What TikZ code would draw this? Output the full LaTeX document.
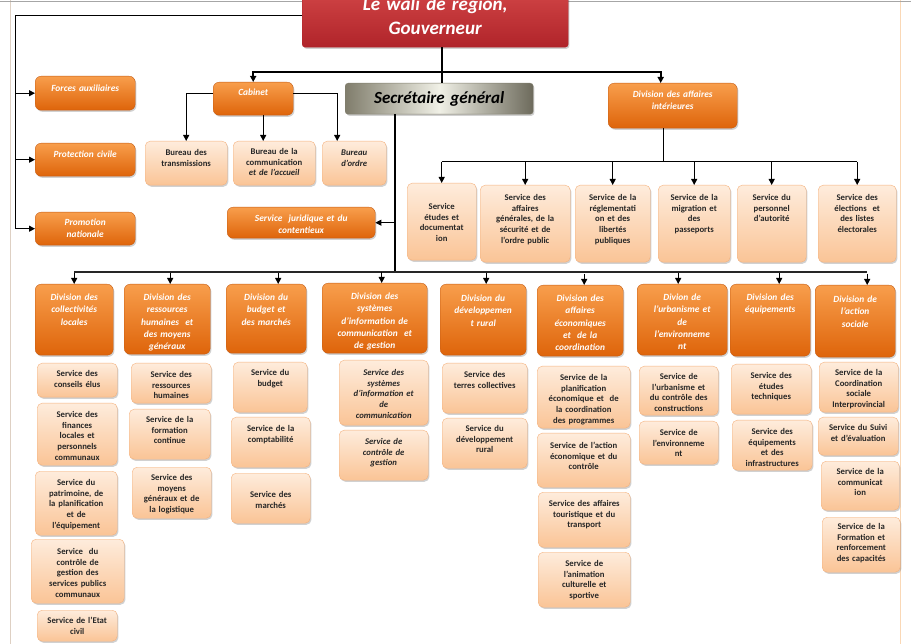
\documentclass[tikz,border=0pt]{standalone}
\usepackage{fontspec}
\setmainfont{Carlito}
\usetikzlibrary{arrows.meta,shadows}
\usepackage{xcolor}
\definecolor{orgtop}{RGB}{248,158,76}
\definecolor{orgbot}{RGB}{222,100,10}
\definecolor{orgbd}{RGB}{196,92,20}
\definecolor{svctop}{RGB}{254,236,220}
\definecolor{svcbot}{RGB}{250,196,150}
\definecolor{svcbd}{RGB}{244,177,125}
\definecolor{walitop}{RGB}{214,74,74}
\definecolor{walibot}{RGB}{176,36,42}
\definecolor{sgmid}{RGB}{240,240,230}
\definecolor{sgside}{RGB}{128,125,108}
\definecolor{framel}{RGB}{222,208,195}
\definecolor{framer}{RGB}{250,216,182}
\hyphenpenalty=10000
\exhyphenpenalty=10000
\tikzset{
    shd/.style={drop shadow={shadow xshift=1.2pt,shadow yshift=-1.6pt,opacity=.3,fill=black!60}},
    box/.style={rectangle,rounded corners=5pt,inner xsep=2pt,inner ysep=0pt,
        minimum height=0pt,align=center,shd},
    div/.style={box,rounded corners=6pt,top color=orgtop,bottom color=orgbot,draw=orgbd,
        text=white,font=\fontsize{9.4}{12.3}\selectfont\bfseries\itshape},
    svc/.style={box,top color=svctop,bottom color=svcbot,draw=svcbd,
        text=black!85,font=\fontsize{8.7}{10.6}\selectfont\bfseries},
    svci/.style={svc,font=\fontsize{8.7}{10.6}\selectfont\bfseries\itshape},
    wali/.style={box,rounded corners=3pt,top color=walitop,bottom color=walibot,draw=walibot,
        text=white,font=\fontsize{19}{24}\selectfont\bfseries\itshape},
    sec/.style={box,rounded corners=3pt,left color=sgside,right color=sgside!85!black,
        middle color=sgmid,draw=sgside,font=\fontsize{17}{20}\selectfont\bfseries\itshape},
    arr/.style={-{Triangle[length=6pt,width=6pt]}},
    thickline/.style={line width=2pt,black},
    thinline/.style={line width=1pt,black},
}
% box from (x1,y1) to (x2,y2), first baseline #7 below the top
\newcommand\bx[8]{%
    \pgfmathsetmacro\bw{#5-#3}%
    \pgfmathsetmacro\bd{#6-#4-#7}%
    \node[#1,anchor=north west,text width=\bw pt-4pt,text height=#7pt,text depth=\bd pt]
        (#2) at (#3,#4) {#8};%
}

\begin{document}
\begin{tikzpicture}[x=1pt,y=-1pt]
    \useasboundingbox (0,0) rectangle (911,644);
    % page frame
    \draw[framel,line width=1pt] (10,0) -- (10,644);
    \draw[framer,line width=1pt] (900,0) -- (900,644);
    \draw[black!35,line width=1pt] (0,1.5) -- (911,1.5);

    % top
    \bx{wali}{wali}{302}{-20}{568}{47}{30}{Le wali de région,\\Gouverneur}
    \bx{sec}{sg}{345}{83}{533}{114}{20}{Secrétaire général}
    \bx{div}{fa}{35}{76}{135}{110}{15.5}{Forces auxiliaires}
    \bx{div}{pc}{35}{143}{135}{176}{14.5}{Protection civile}
    \bx{div}{pn}{35}{212}{135}{245}{13.5}{Promotion\\nationale}
    \bx{div}{cab}{213}{82}{293}{115}{13.5}{Cabinet}
    \bx{div}{sj}{227}{207}{375}{238}{14.5}{Service \ juridique et du\\contentieux}
    \bx{div}{dai}{608}{83}{737}{128}{14.5}{Division des affaires\\intérieures}
    \bx{svc}{bt}{145}{141}{227}{185}{14.5}{Bureau des\\transmissions}
    \bx{svc}{bc}{233}{141}{315}{185}{13.5}{Bureau de la\\communication\\{\itshape et de l’accueil}}
    \bx{svci}{bo}{322}{141}{386}{185}{14.5}{Bureau\\d’ordre}

    % services of the division des affaires interieures
    \bx{svc}{s1}{407}{183}{476}{260}{26.5}{Service\\études et\\documentat\\ion}
    \bx{svc}{s2}{480}{185}{570}{262}{15.5}{Service des\\affaires\\générales, de la\\sécurité et de\\l’ordre public}
    \bx{svc}{s3}{575}{185}{650}{262}{15.5}{Service de la\\réglementati\\on et des\\libertés\\publiques}
    \bx{svc}{s4}{658}{185}{730}{262}{15.5}{Service de la\\migration et\\des\\passeports}
    \bx{svc}{s5}{737}{185}{806}{262}{15.5}{Service du\\personnel\\d’autorité}
    \bx{svc}{s6}{818}{185}{896}{262}{15.5}{Service des\\élections \ et\\des listes\\électorales}

    % divisions
    \bx{div}{d1}{35}{284}{113}{355}{16.5}{Division des\\collectivités\\locales}
    \bx{div}{d2}{124}{284}{210}{354}{16.5}{Division des\\ressources\\humaines \ et\\des moyens\\généraux}
    \bx{div}{d3}{226}{284}{306}{353}{16.5}{Division du\\budget et\\des marchés}
    \bx{div}{d4}{322}{283}{427}{353}{16.5}{Division des\\systèmes\\d’information de\\communication \ et\\de gestion}
    \bx{div}{d5}{440}{284}{526}{355}{17.5}{Division du\\développemen\\t rural}
    \bx{div}{d6}{537}{285}{623}{356}{16.5}{Division des\\affaires\\économiques\\et \ de la\\coordination}
    \bx{div}{d7}{637}{284}{727}{355}{16.5}{Divion de\\l’urbanisme et\\de\\l’environneme\\nt}
    \bx{div}{d8}{730}{284}{810}{356}{16.5}{Division des\\équipements}
    \bx{div}{d9}{815}{285}{895}{357}{17.5}{Division de\\l’action\\sociale}

    % services below the divisions
    \bx{svc}{c11}{37}{363}{117}{397}{13.5}{Service des\\conseils élus}
    \bx{svc}{c12}{37}{403}{117}{465}{14.5}{Service des\\finances\\locales et\\personnels\\communaux}
    \bx{svc}{c13}{35}{471}{117}{535}{14.5}{Service du\\patrimoine, de\\la planification\\et de\\l’équipement}
    \bx{svc}{c14}{31}{539}{124}{603}{15.5}{Service \ du\\contrôle de\\gestion des\\services publics\\communaux}
    \bx{svc}{c15}{37}{610}{117}{641}{13.5}{Service de l’Etat\\civil}
    \bx{svc}{c21}{131}{363}{211}{403}{14.5}{Service des\\ressources\\humaines}
    \bx{svc}{c22}{129}{409}{210}{459}{13.5}{Service de la\\formation\\continue}
    \bx{svc}{c23}{132}{467}{211}{518}{13.5}{Service des\\moyens\\généraux et de\\la logistique}
    \bx{svc}{c31}{233}{362}{307}{412}{13.5}{Service du\\budget}
    \bx{svc}{c32}{231}{417}{310}{467}{14.5}{Service de la\\comptabilité}
    \bx{svc}{c33}{231}{473}{310}{523}{24.5}{Service des\\marchés}
    \bx{svci}{c41}{339}{360}{428}{425}{15.5}{Service des\\systèmes\\d’information et\\de\\communication}
    \bx{svci}{c42}{339}{430}{428}{480}{14.5}{Service de\\contrôle de\\gestion}
    \bx{svc}{c51}{442}{363}{527}{413}{14.5}{Service des\\terres collectives}
    \bx{svc}{c52}{442}{418}{527}{468}{13.5}{Service du\\développement\\rural}
    \bx{svc}{c61}{537}{366}{630}{428}{14.5}{Service de la\\planification\\économique et \ de\\la coordination\\des programmes}
    \bx{svc}{c62}{537}{433}{630}{487}{15.5}{Service de l’action\\économique et du\\contrôle}
    \bx{svc}{c63}{538}{492}{630}{547}{14.5}{Service des affaires\\touristique et du\\transport}
    \bx{svc}{c64}{538}{552}{630}{607}{14.5}{Service de\\l’animation\\culturelle et\\sportive}
    \bx{svc}{c71}{639}{366}{718}{415}{13.5}{Service de\\l’urbanisme et\\du contrôle des\\constructions}
    \bx{svc}{c72}{639}{421}{718}{464}{14.5}{Service de\\l’environneme\\nt}
    \bx{svc}{c81}{731}{364}{811}{414}{14.5}{Service des\\études\\techniques}
    \bx{svc}{c82}{732}{420}{812}{470}{14.5}{Service des\\équipements\\et des\\infrastructures}
    \bx{svc}{c91}{819}{362}{898}{412}{13.5}{Service de la\\Coordination\\sociale\\Interprovincial}
    \bx{svc}{c92}{818}{417}{898}{455}{13.5}{Service du Suivi\\et d’évaluation}
    \bx{svc}{c93}{821}{461}{899}{510}{13.5}{Service de la\\communicat\\ion}
    \bx{svc}{c94}{822}{517}{900}{572}{12.5}{Service de la\\Formation et\\renforcement\\des capacités}

    % connectors
    \coordinate (j1) at (442,72);
    \coordinate (j2) at (395,272);
    \coordinate (j3) at (663,162);
    \coordinate (wl) at (15,16);
    \draw[thickline] (j1 |- wali.south) -- (j1 |- sg.north);
    \draw[thickline,arr] (j1) -| (cab.north);
    \draw[thickline,arr] (j1) -| ([xshift=-12pt]dai.north);
    \draw[thinline] (wali.west |- wl) -- (wl) -- (wl |- pn.west);
    \foreach \b in {fa,pc,pn}
        \draw[thinline,arr] (wl |- \b.west) -- (\b.west);
    \draw[thinline,arr] ([yshift=5.5pt]cab.west) -| (bt.north);
    \draw[thinline,arr] ([xshift=10pt]cab.south) -- ([xshift=10pt]cab.south |- bc.north);
    \draw[thinline,arr] ([yshift=5.5pt]cab.east) -| ([xshift=-17pt]bo.north);
    \draw[thickline] (j2 |- sg.south) -- (j2);
    \draw[thinline,arr] (j2 |- sj.east) -- (sj.east);
    \draw[line width=1.2pt,black!85] (j2 -| d1.north) -- ([xshift=12pt]j2 -| d9.north);
    \foreach \d/\s in {d1/0,d2/3,d3/12,d4/7,d5/3,d6/4,d7/-4,d8/9,d9/12}
        \draw[thinline,arr] ([xshift=\s pt,yshift=11pt]\d.north) -- ([xshift=\s pt]\d.north);
    \draw[thinline] (j3 |- dai.south) -- (j3);
    \draw[thinline] (j3 -| s1.north) -- (j3 -| s6.north);
    \foreach \i in {1,...,6}
        \draw[thinline,arr] (s\i.north |- j3) -- (s\i.north);
\end{tikzpicture}
\end{document}
